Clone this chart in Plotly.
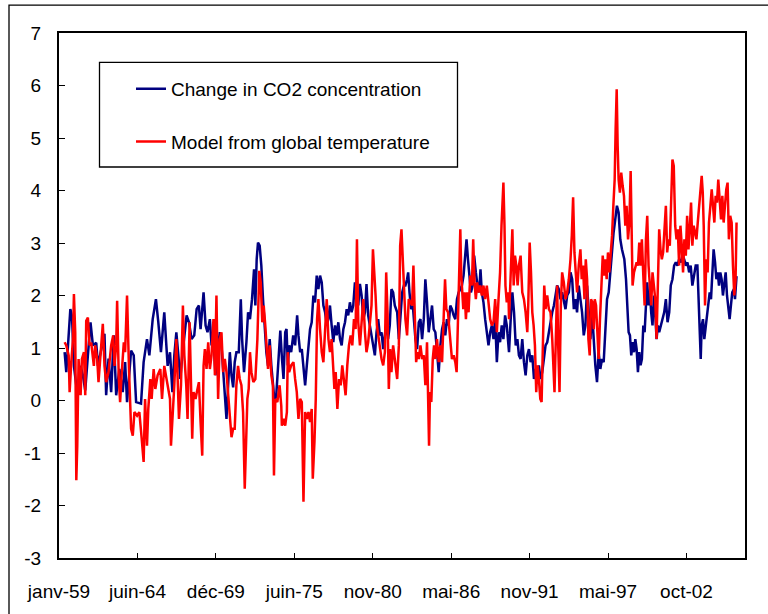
import numpy as np
import pandas as pd
import plotly.graph_objects as go

# ---------------- data ----------------
# time in months since January 1959
start = pd.Timestamp("1959-01-01")

co2_t = [
    4.7, 6.1, 9.5, 10.9, 12.5, 14.5, 15.9, 18.1, 20.0, 22.0,
    24.2, 26.4, 28.4, 31.2, 32.6, 35.3, 38.1, 39.5, 41.5, 43.7,
    45.9, 47.9, 50.6, 53.4, 55.4, 57.0, 60.4, 62.6, 64.6, 68.7,
    70.9, 73.7, 75.7, 78.5, 81.2, 83.2, 85.4, 88.2, 91.0,
    93.0, 95.0, 96.6, 98.3, 100.0, 101.6, 103.3, 105.5, 106.9, 108.9,
    111.1, 113.3, 115.3, 117.2, 118.6, 120.0, 121.1, 122.8, 124.4, 126.4,
    127.8, 129.4, 131.1, 132.8, 134.7, 136.1, 137.5, 138.9, 140.3, 141.7,
    143.1, 144.5, 145.9, 147.2, 148.6, 150.6, 152.3, 153.4, 155.0, 157.0,
    158.4, 160.0, 161.7, 163.4, 164.5, 165.6, 166.7, 168.1, 169.5, 170.9,
    172.3, 173.7, 175.1, 176.5, 177.9, 179.2, 180.6, 182.0, 184.0, 185.4,
    186.8,
    188.1, 189.5, 190.6, 191.7, 192.8, 194.5, 196.2, 197.8, 199.5, 200.6,
    202.0, 203.4, 204.8, 206.2, 207.6, 209.0, 210.3, 211.7, 213.1, 214.5,
    215.9, 217.3, 218.7, 220.1, 221.5, 222.9, 224.3, 225.7, 227.0, 228.4,
    229.8, 231.2, 232.6, 234.0, 235.4, 236.8, 238.2, 239.6, 241.0, 242.3,
    243.7, 245.1, 246.5, 247.9, 249.3, 250.7, 252.1, 253.5, 254.9, 256.3,
    257.6, 259.0, 260.4, 261.8, 263.2, 264.6, 266.0, 267.4, 268.8, 270.2,
    271.6, 273.0, 274.3, 275.7, 277.1, 278.5, 279.9, 281.3,
    283.3, 284.7, 286.1, 287.5, 288.9, 290.2, 291.6, 292.5, 293.6, 295.0,
    296.4, 297.5, 298.6, 300.0, 301.4, 302.8, 304.2, 305.6, 306.9, 308.3,
    309.7, 311.1, 312.5, 313.9, 315.3, 316.7, 318.1, 319.5, 320.9, 322.2,
    323.6, 325.0, 326.4, 327.8, 329.2, 330.6, 332.0, 333.4, 334.8, 336.2,
    337.5, 338.9, 340.3, 341.4, 342.6, 343.7, 345.1, 346.5, 347.8, 349.2,
    350.6, 352.0, 353.1, 354.2, 355.6, 357.0, 358.4, 359.8, 361.2, 362.6,
    364.0, 365.4, 366.8, 368.2, 369.5, 370.9, 372.3, 373.7, 375.1, 376.5,
    377.0, 378.4, 379.8, 381.2, 382.6, 384.0, 385.3, 386.7, 388.1, 389.5,
    390.9, 392.3, 393.7, 395.1, 396.5, 397.9, 399.3, 400.7, 402.0, 403.4,
    404.8, 406.2, 407.6, 409.0, 410.4, 411.8, 413.2, 414.6, 416.0, 417.3,
    418.7, 420.1, 421.5, 422.9, 424.3, 425.7, 427.1, 428.5, 429.9, 431.3,
    432.6, 434.0, 435.4, 436.8, 438.2, 439.6, 441.0, 442.4, 443.8, 445.2,
    446.6, 448.0, 449.3, 450.7, 452.1, 453.5, 454.9, 456.3, 457.7, 459.1,
    460.5, 461.9, 463.3, 464.6, 466.0, 467.4, 468.8, 470.2, 471.6,
    473.6, 475.0, 476.1, 477.2, 478.3, 479.4, 480.5, 481.7, 482.8, 483.9,
    485.0, 486.1, 487.2, 488.3, 489.5, 490.6, 491.7, 492.8, 493.9, 495.0,
    496.1, 497.2, 498.4, 499.5, 500.6, 501.7, 502.8, 504.2, 505.6, 507.0,
    508.4, 509.8, 511.2, 512.5, 513.9, 515.3, 516.7, 518.1, 519.5, 520.9,
    522.3, 523.7, 525.1, 526.5, 527.9, 529.2, 530.6, 532.0, 533.4, 534.8,
    535.9, 536.8, 537.6, 538.4, 539.5, 540.6, 541.8, 542.9, 544.0, 545.1,
    546.2, 547.3, 548.4, 549.6, 550.7, 551.8, 552.9, 554.0, 555.1, 556.2,
    557.3, 558.5, 559.6, 560.7, 561.8, 562.9, 564.0, 565.4, 566.3, 567.6,
]
co2_v = [
    0.92, 0.54, 1.74, 1.6, 0.66, 0.28, 0.19, 0.66, 0.48, 0.19,
    0.86, 1.49, 1.05, 1.1, 0.66, 0.98, 1.27, 0.1, 0.8, 0.16,
    1.24, 0.1, 0.6, 0.16, 0.73, -0.03, 0.95, 0.86, -0.03, -0.06,
    0.73, 1.17, 0.86, 1.55, 1.93, 1.49, 0.92, 1.68, 0.66,
    0.92, 0.16, 0.86, 1.3, 0.86, 0.41, 0.86, 1.3, 1.62, 1.49,
    1.17, 1.24, 1.74, 1.81, 1.36, 1.74, 2.06, 1.43, 1.3, 1.55,
    1.05, 1.17, 0.48, 0.92, 1.3, 1.05, 0.54, 0.03, -0.35, 0.29,
    0.92, 0.48, 0.25, 0.73, 0.92, 0.92, 1.93, 1.17, 0.54, 1.11,
    1.68, 1.55, 1.93, 2.5, 1.81, 2.69, 3.01, 2.95, 2.57, 1.93,
    1.3, 0.92, 0.66, 1.17, 0.66, 0.29, -0.03, 0.1, 0.92, 1.33,
    0.79,
    0.41, 1.3, 1.36, 0.67, 1.05, 0.92, 1.24, 1.05, 1.62, 1.24,
    0.92, 0.98, 0.54, 0.29, 0.67, 1.05, 1.36, 1.49, 2.0, 1.87,
    2.38, 2.12, 2.38, 2.25, 1.81, 1.68, 1.43, 1.55, 1.81, 1.43,
    1.11, 1.43, 1.24, 1.49, 1.17, 1.05, 1.36, 1.49, 1.74, 1.62,
    1.87, 1.68, 1.81, 2.25, 2.0, 1.81, 2.22, 2.0, 1.55, 1.68,
    2.22, 1.62, 1.43, 1.24, 1.05, 0.86, 1.3, 1.55, 1.24, 1.3,
    0.98, 1.3, 1.49, 1.17, 1.43, 2.12, 2.06, 1.81,
    1.68, 1.17, 1.62, 2.06, 2.19, 2.19, 2.31, 2.44, 2.06, 1.74,
    1.81, 1.43, 1.17, 0.98, 1.49, 1.55, 1.17, 1.55, 2.31, 1.87,
    1.3, 1.55, 1.81, 1.36, 1.3, 0.92, 0.54, 1.05, 1.36, 1.49,
    1.24, 1.55, 1.43, 1.81, 1.74, 1.62, 1.55, 1.93, 2.06, 2.12,
    2.19, 2.38, 2.69, 3.07, 2.69, 2.44, 2.06, 2.19, 2.76, 2.44,
    2.19, 2.06, 2.5, 2.06, 1.87, 1.55, 1.3, 1.05, 1.3, 1.43,
    1.17, 1.55, 0.73, 1.3, 1.11, 1.43, 1.17, 1.62, 1.43, 1.05,
    0.92, 1.55, 2.06, 1.68, 1.05, 1.17, 0.86, 0.79, 1.17, 0.73,
    0.48, 0.86, 0.98, 0.73, 0.86, 0.41, 0.6, 0.41, 0.67, 0.41,
    0.54, 0.79, 1.05, 1.11, 1.3, 1.55, 1.68, 1.81, 2.0, 2.19,
    2.12, 1.93, 2.06, 1.87, 1.74, 2.0, 2.06, 2.44, 2.31, 1.74,
    1.93, 1.68, 2.19, 1.93, 1.68, 1.24, 1.43, 2.19, 1.68, 1.17,
    1.68, 1.05, 0.67, 0.35, 0.92, 0.6, 0.79, 0.73, 1.36, 1.93,
    2.06, 2.5, 2.82, 3.2, 3.45, 3.71, 3.58, 3.07, 2.88,
    2.69, 2.31, 1.81, 1.3, 1.24, 0.86, 1.11, 0.92, 1.17, 0.98,
    0.54, 0.92, 0.67, 0.79, 1.43, 1.3, 1.81, 2.25, 1.81, 2.06,
    1.68, 1.43, 2.0, 1.68, 1.17, 1.43, 1.3, 1.43, 1.55, 1.68,
    1.93, 1.49, 1.68, 2.19, 2.31, 2.57, 2.63, 2.57, 2.69, 2.63,
    2.76, 2.69, 2.57, 2.63, 2.44, 2.57, 2.19, 2.37, 2.57, 2.57,
    1.81, 1.17, 0.79, 1.43, 1.55, 1.17, 1.43, 1.55, 1.81, 2.06,
    1.93, 2.44, 2.88, 2.63, 2.31, 2.44, 2.19, 2.44, 2.31, 2.0,
    2.19, 2.44, 2.0, 1.81, 1.55, 1.81, 2.06, 2.12, 1.93, 2.37,
]

model_t = [
    4.7, 6.1, 8.1, 8.9, 10.3, 11.7, 12.5, 13.6, 14.5, 15.3,
    16.4, 18.1, 19.2, 20.9, 22.0, 22.8, 24.2, 25.6, 27.0, 29.2,
    30.3, 32.0, 33.1, 35.3, 36.7, 38.1, 39.5, 41.5, 43.7, 45.4,
    46.5, 47.9, 48.7, 50.1, 51.2, 52.6, 54.3, 55.4, 57.0, 58.7,
    60.4, 61.8, 63.2, 65.4, 67.3, 69.3, 70.9, 72.1, 73.7, 74.8,
    76.5, 77.6, 79.3, 80.7, 82.6, 84.9, 86.3, 88.2, 91.0,
    93.0, 93.8, 95.5, 96.6, 98.3, 99.4, 100.5, 102.2, 103.8, 105.0,
    106.6, 107.7, 109.4, 110.5, 111.6, 112.7, 114.4, 115.5, 117.2, 118.6,
    120.0, 121.1, 122.2, 123.6, 125.0, 126.4, 127.8, 129.4, 130.6, 131.9,
    133.3, 134.7, 136.1, 137.5, 138.9, 140.3, 141.7, 143.1, 144.5, 145.9,
    147.2, 148.6, 150.0, 151.4, 152.8, 154.2, 155.6, 156.7, 157.8, 158.9,
    160.0, 161.2, 162.8, 164.5, 166.2, 167.8, 169.0, 170.3, 171.5, 172.8,
    174.0, 175.1, 176.5, 177.9, 179.2, 180.1, 181.2, 182.9, 184.8, 186.2,
    186.7, 188.1, 189.5, 190.9, 191.7, 192.8, 194.5, 196.4, 197.8, 199.2,
    200.6, 202.0, 203.4, 204.8, 206.2, 207.6, 209.0, 210.3, 211.7, 212.6,
    214.0, 215.1, 216.2, 217.3, 218.7, 220.1, 221.5, 222.9, 224.3, 225.7,
    227.0, 228.4, 229.8, 230.7, 231.8, 233.2, 234.6, 236.0, 237.3, 238.7,
    240.1, 241.5, 242.9, 244.3, 245.7, 247.1, 248.5, 249.6, 250.7, 252.1,
    253.5, 254.9, 256.3, 257.6, 259.0, 260.4, 261.8, 263.0, 264.1, 265.2,
    266.3, 267.4, 268.8, 270.2, 271.6, 273.0, 274.1, 275.2, 276.3, 277.4,
    278.5, 279.9, 281.3,
    283.3, 284.7, 285.8, 286.9, 288.0, 289.1, 290.2, 291.6, 293.0, 294.4,
    295.8, 296.9, 298.0, 299.2, 300.3, 301.4, 302.8, 304.2, 305.6, 306.9,
    308.3, 309.2, 310.0, 310.8, 311.9, 313.1, 314.2, 315.3, 316.7, 318.1,
    319.5, 320.9, 322.2, 323.4, 324.5, 325.9, 327.0, 328.1, 329.2, 330.6,
    332.0, 333.1, 334.2, 335.3, 336.2, 337.0, 338.7, 339.8, 340.9,
    342.0, 343.1, 344.5, 345.9, 347.0, 348.1, 349.2, 350.3, 351.5, 352.9,
    354.2, 355.6, 357.0, 358.4, 359.8, 361.2, 362.6, 364.0, 365.4, 366.8,
    368.2, 369.5, 370.7, 371.8, 372.3, 373.2, 374.0, 375.1, 376.5,
    377.0, 378.4, 379.8, 380.9, 382.0, 383.1, 384.2, 385.3, 386.7, 388.1,
    389.5, 390.9, 392.3, 393.1, 394.3, 395.4, 396.5, 397.6, 398.7, 399.8,
    400.9, 402.0, 403.2, 404.3, 405.4, 406.5, 407.6, 409.0, 410.4, 411.8,
    413.2, 414.0, 415.1, 416.2, 417.3, 418.2, 419.3, 420.4, 421.5, 422.9,
    424.3, 425.7, 427.1, 428.5, 429.6, 430.7, 431.8, 432.9, 434.0, 435.4,
    436.8, 437.9, 439.0, 440.2, 441.3, 442.4, 443.5, 444.6, 445.7, 446.8,
    448.0, 448.8, 449.9, 451.0, 452.1, 453.2, 454.4, 455.5, 456.6, 457.7,
    458.8, 459.9, 461.0, 462.1, 463.3, 464.4, 465.5, 466.3, 467.2, 468.0,
    468.8, 469.9, 471.0, 472.2, 473.3,
    474.4, 475.5, 476.7, 477.8, 478.9, 479.7, 480.5, 481.7, 482.8, 483.9,
    485.0, 486.1, 487.2, 488.3, 489.5, 490.6, 491.7, 492.8, 493.9, 495.0,
    496.1, 497.2, 498.4, 499.5, 500.6, 501.7, 502.8, 503.9, 505.0, 506.1,
    507.3, 508.4, 509.5, 510.6, 511.7, 512.8, 513.9, 515.0, 516.2, 517.3,
    518.4, 519.5, 520.6, 521.7, 522.8, 523.9, 525.1, 526.2, 527.3, 528.4,
    529.5, 530.6, 531.7, 532.9, 534.0, 535.1, 536.2, 537.3, 538.4, 539.3,
    540.1, 541.2, 542.3, 543.4, 544.5, 545.7, 546.8, 547.9, 549.0, 550.1,
    551.2, 552.3, 553.4, 554.6, 555.7, 556.8, 557.9, 559.0, 560.1, 561.2,
    562.3, 563.5, 564.6, 565.7, 566.8, 567.6,
]
model_v = [
    1.11, 1.05, 0.86, 0.16, 0.73, 1.17, 2.03, 1.3, -1.52, -0.86,
    0.79, 0.1, 0.79, 0.92, 0.1, 1.52, 1.58, 1.05, 1.1, 0.66,
    1.05, 0.79, 0.35, 1.17, 1.46, 0.66, 0.35, 0.54, 1.05, 1.24,
    0.66, 1.05, 1.9, 0.41, -0.03, 0.54, 1.11, 0.92, 2.0, 0.54,
    -0.54, -0.67, -0.22, -0.29, -0.22, -0.73, -1.17, 0.03, -0.86, -0.16,
    0.41, 0.03, 0.6, 0.22, 0.48, 0.6, 0.03, 0.66, 0.29,
    0.03, -0.86, -0.22, 0.29, 1.17, 0.41, -0.35, 0.29, 1.81, 0.86,
    0.29, -0.35, 1.49, 0.41, -0.73, 0.16, 0.03, 0.16, 0.35, -0.41,
    -1.05, 0.66, 0.98, 0.6, 1.11, 0.6, 0.86, 1.55, 0.48, 2.0,
    0.03, 1.17, 1.3, 0.54, 0.79, 0.54, 0.03, -0.29, -0.7, -0.54,
    -0.54, 0.29, 0.66, 0.41, 0.29, -0.22, -1.68, -0.86, 0.03, 0.22,
    0.92, 0.54, 0.35, 0.41, 1.17, 2.47, 2.25, 1.49, 1.81, 1.43,
    1.05, 0.6, 1.05, 0.48, 0.29, -1.43, 0.03, -0.03, 0.29, -0.1,
    -0.48, -0.35, -0.48, -0.22, 0.92, 0.54, 0.67, 0.73, 0.41, 0.16,
    -0.35, 0.03, -0.03, -1.93, -0.22, -0.35, -0.22, -0.41, -0.16, -1.49,
    -0.79, 0.03, 1.55, 1.93, 1.36, 0.92, 0.73, 1.24, 1.93, 1.17,
    0.92, 1.17, 0.67, 0.22, 0.54, -0.16, 0.41, 0.29, 0.67, 0.35,
    0.1, 0.67, 1.05, 1.24, 1.05, 1.55, 1.36, 3.07, 1.49, 1.05,
    1.49, 1.93, 1.3, 0.92, 1.11, 1.49, 1.81, 2.88, 2.5, 2.0,
    1.43, 1.24, 1.05, 0.79, 0.67, 0.92, 2.44, 1.68, 0.22, 0.98,
    0.54, 1.05, 0.79,
    0.41, 1.05, 2.95, 3.26, 2.69, 1.81, 1.55, 1.24, 1.93, 1.87,
    1.81, 2.57, 1.55, 0.73, 0.92, 0.79, 1.05, 0.79, 0.86, 0.29,
    1.11, 0.16, -0.86, 0.16, -0.03, 0.79, 1.05, 0.79, 1.17, 0.73,
    1.05, 0.73, 1.68, 2.31, 1.74, 1.68, 1.36, 0.98, 0.79, 0.86,
    0.73, 0.54, 1.68, 2.82, 3.26, 2.38, 1.74, 2.06, 1.55,
    2.06, 1.68, 2.38, 2.19, 3.07, 2.25, 1.93, 2.25, 2.06, 2.19,
    2.0, 2.19, 1.93, 2.19, 1.87, 1.55, 1.43, 1.49, 1.93, 1.3,
    1.93, 2.44, 3.33, 3.83, 4.15, 3.33, 2.19, 1.87, 2.06,
    1.55, 2.31, 3.26, 2.19, 2.76, 2.57, 2.19, 2.57, 2.76, 2.06,
    1.93, 1.68, 1.3, 1.81, 3.01, 2.44, 1.68, 1.43, 1.05, 0.16,
    0.67, 0.41, 0.03, -0.03, 1.3, 2.19, 1.74, 2.0, 1.74, 1.68,
    1.17, 0.54, 0.16, 1.17, 2.19, 1.05, 0.16, 1.81, 2.44, 2.25,
    1.93, 2.06, 2.31, 2.69, 3.14, 3.87, 2.82, 2.44, 2.06, 2.57,
    2.88, 2.31, 2.57, 1.93, 2.69, 2.31, 1.17, 0.86, 1.93, 1.87,
    1.36, 1.93, 1.81, 1.3, 0.79, 1.55, 2.19, 2.76, 2.38, 2.69,
    2.31, 2.82, 2.44, 2.76, 3.14, 3.71, 4.21, 5.16, 5.93, 4.85,
    4.21, 3.96, 4.34, 4.09, 3.9,
    3.33, 3.71, 3.07, 3.39, 4.37, 3.39, 2.19, 2.44, 2.57, 2.63,
    2.57, 3.01, 2.57, 3.07, 2.38, 1.81, 3.07, 3.52, 2.57, 2.06,
    1.81, 2.44, 2.19, 1.93, 1.17, 2.31, 3.26, 2.88, 2.69, 2.82,
    3.33, 3.71, 2.82, 3.07, 2.95, 3.83, 4.59, 4.47, 3.33, 3.07,
    3.26, 2.57, 3.33, 2.95, 2.44, 3.07, 2.76, 3.52, 2.88, 3.26,
    3.77, 2.95, 3.33, 3.2, 3.07, 3.39, 3.71, 4.02, 4.28, 3.96,
    3.33, 1.81, 2.69, 2.44, 3.39, 3.71, 4.02, 3.71, 3.39, 3.9,
    3.77, 4.21, 3.83, 3.45, 3.9, 3.39, 3.71, 4.02, 4.15, 3.07,
    3.52, 3.39, 2.57, 2.0, 2.31, 3.39,
]

series_names = ["Change in CO2 concentration", "Model from global temperature"]
x_tick_labels = ["janv-59", "juin-64", "déc-69", "juin-75", "nov-80",
                 "mai-86", "nov-91", "mai-97", "oct-02"]
tick_step_days = 2000
y_ticks = [-3, -2, -1, 0, 1, 2, 3, 4, 5, 6, 7]
y_tick_labels = [str(v) for v in y_ticks]   # plain hyphen-minus as in the original

assert len(co2_t) == len(co2_v), (len(co2_t), len(co2_v))
assert len(model_t) == len(model_v), (len(model_t), len(model_v))


def to_dates(months):
    return start + pd.to_timedelta(np.asarray(months) * 30.4375, unit="D")


x_tick_vals = [start + pd.Timedelta(days=k * tick_step_days) for k in range(len(x_tick_labels))]
x_end = start + pd.Timedelta(days=17492)

# ---------------- figure ----------------
W, H = 768, 614
L, R, T, B = 59, 23, 33, 54
PW, PH = W - L - R, H - T - B


def px_x(x):
    return (x - L) / PW


def px_y(y):
    return (H - B - y) / PH


fig = go.Figure()
fig.add_trace(go.Scatter(
    x=to_dates(co2_t), y=co2_v, mode="lines", name=series_names[0],
    legendgroup="a", line=dict(color="#000080", width=2.5),
))
fig.add_trace(go.Scatter(
    x=to_dates(model_t), y=model_v, mode="lines", name=series_names[1],
    legendgroup="b", line=dict(color="#FF0000", width=2.5),
))

font_family = "Liberation Sans, Arial, sans-serif"
FS = 19

fig.update_layout(
    width=W, height=H,
    margin=dict(l=L, r=R, t=T, b=B, pad=0),
    paper_bgcolor="white", plot_bgcolor="white",
    font=dict(family=font_family, size=FS, color="black"),
    showlegend=True,
    legend=dict(
        x=px_x(131), y=px_y(70), xanchor="left", yanchor="top",
        bgcolor="rgba(0,0,0,0)", borderwidth=0,
        traceorder="grouped", tracegroupgap=25, itemwidth=30,
        font=dict(family=font_family, size=FS, color="black"),
    ),
    shapes=[
        dict(type="rect", xref="paper", yref="paper",
             x0=px_x(9), x1=px_x(775), y0=px_y(620), y1=px_y(5),
             line=dict(color="black", width=1.3), layer="below"),
        dict(type="rect", xref="paper", yref="paper",
             x0=px_x(99.5), x1=px_x(457.5), y0=px_y(167.5), y1=px_y(62.5),
             line=dict(color="black", width=1.3), fillcolor="white", layer="below"),
    ],
)

fig.update_xaxes(
    type="date", range=[start, x_end],
    tickmode="array", tickvals=x_tick_vals, ticktext=x_tick_labels,
    ticks="inside", ticklen=5, tickwidth=1, tickcolor="black",
    showline=True, linecolor="black", linewidth=2, mirror=True,
    showgrid=False, zeroline=False, ticklabelstandoff=15,
    tickfont=dict(family=font_family, size=FS, color="black"),
)
fig.update_yaxes(
    range=[y_ticks[0], y_ticks[-1]],
    tickmode="array", tickvals=y_ticks, ticktext=y_tick_labels,
    ticks="inside", ticklen=6, tickwidth=1, tickcolor="black",
    showline=True, linecolor="black", linewidth=2, mirror=True,
    showgrid=False, zeroline=False, ticklabelstandoff=12,
    tickfont=dict(family=font_family, size=FS, color="black"),
)

fig.write_html("out.html")
